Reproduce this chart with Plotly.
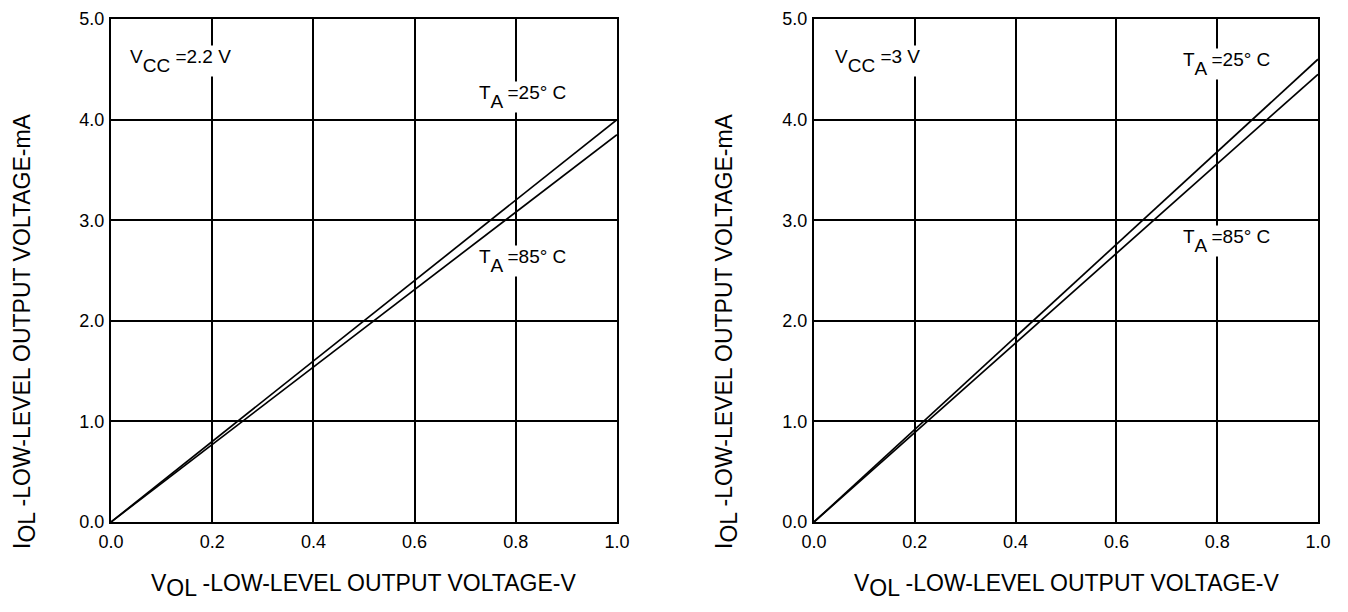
import plotly.graph_objects as go

# Figure renders at (1348-16)x(612-16) offset by the 8px page margin
W, H = 1332, 596
OFF = 8

# Data
vol = [0.0, 0.2, 0.4, 0.6, 0.8, 1.0]
left_25 = [0.0, 0.80, 1.60, 2.40, 3.20, 4.00]
left_85 = [0.0, 0.77, 1.54, 2.31, 3.08, 3.85]
right_25 = [0.0, 0.92, 1.84, 2.76, 3.68, 4.60]
right_85 = [0.0, 0.89, 1.78, 2.67, 3.56, 4.45]

x_ticks = [0.0, 0.2, 0.4, 0.6, 0.8, 1.0]
x_tick_text = ["0.0", "0.2", "0.4", "0.6", "0.8", "1.0"]
y_ticks = [0.0, 1.0, 2.0, 3.0, 4.0, 5.0]
y_tick_text = ["0.0", "1.0", "2.0", "3.0", "4.0", "5.0"]

FS = 18      # tick labels
AFS = 19     # in-plot labels
TFS = 23     # axis titles

def sub2(s, size):
    # full-size subscript with a deep downward shift (nested sub)
    big = round(size * 1.33)
    return (f"<span style='font-size:{big}px'><sub><sub>"
            f"<span style='font-size:{size}px'>{s} </span></sub></sub></span>")

def sub1(s, size):
    # full-size subscript with a moderate downward shift
    big = round(size * 1.15)
    return (f"<span style='font-size:{big}px'><sub>"
            f"<span style='font-size:{size}px'>{s} </span></sub></span>")

vcc_labels = ["V" + sub2("CC", AFS) + "=2.2 V", "V" + sub2("CC", AFS) + "=3 V"]
ta25 = "T" + sub2("A", AFS) + "=25° C"
ta85 = "T" + sub2("A", AFS) + "=85° C"
x_title = "V" + sub1("OL", TFS) + "-LOW-LEVEL OUTPUT VOLTAGE-V"
y_title = "I" + sub1("OL", TFS) + "-LOW-LEVEL OUTPUT VOLTAGE-mA"

FONT = "Liberation Sans, Arial, sans-serif"

def px_x(p):
    return (p - OFF) / W

def px_y(p):
    return 1 - (p - OFF) / H

fig = go.Figure()
line_style = dict(color="black", width=1.7)
fig.add_trace(go.Scatter(x=vol, y=left_25, mode="lines", line=line_style, xaxis="x", yaxis="y", showlegend=False))
fig.add_trace(go.Scatter(x=vol, y=left_85, mode="lines", line=line_style, xaxis="x", yaxis="y", showlegend=False))
fig.add_trace(go.Scatter(x=vol, y=right_25, mode="lines", line=line_style, xaxis="x2", yaxis="y2", showlegend=False))
fig.add_trace(go.Scatter(x=vol, y=right_85, mode="lines", line=line_style, xaxis="x2", yaxis="y2", showlegend=False))

ydom = [px_y(522), px_y(19)]
xdom1 = [px_x(111), px_x(617)]
xdom2 = [px_x(814), px_x(1318)]

def xax(dom, anchor):
    return dict(domain=dom, anchor=anchor, range=[0, 1.0], tickvals=x_ticks, ticktext=x_tick_text,
                showgrid=True, gridcolor="black", gridwidth=1.7, zeroline=False, automargin=False,
                showline=True, linecolor="black", linewidth=2, mirror=True,
                ticks="", tickfont=dict(family=FONT, size=FS, color="black"), ticklabelstandoff=2)

def yax(anchor):
    return dict(domain=ydom, anchor=anchor, range=[0, 5.0], tickvals=y_ticks, ticktext=y_tick_text,
                showgrid=True, gridcolor="black", gridwidth=1.7, zeroline=False, automargin=False,
                showline=True, linecolor="black", linewidth=2, mirror=True,
                ticks="", tickfont=dict(family=FONT, size=FS, color="black"), ticklabelstandoff=1)

annots = []
def lab(text, x, y, xr, yr):
    annots.append(dict(text=text, x=x, y=y, xref=xr, yref=yr, showarrow=False,
                       xanchor="center", yanchor="middle",
                       bgcolor="white", font=dict(family=FONT, size=AFS, color="black"), borderpad=0))

lab(vcc_labels[0], 0.138, 4.58, "x", "y")
lab(ta25, 0.814, 4.22, "x", "y")
lab(ta85, 0.814, 2.59, "x", "y")
lab(vcc_labels[1], 0.125, 4.58, "x2", "y2")
lab(ta25, 0.819, 4.55, "x2", "y2")
lab(ta85, 0.819, 2.79, "x2", "y2")

for cx in [363, 1066]:
    annots.append(dict(text=x_title, x=px_x(cx), y=px_y(603), xref="paper", yref="paper", showarrow=False,
                       xanchor="center", yanchor="bottom",
                       font=dict(family=FONT, size=TFS, color="black")))
for cx in [24, 726]:
    annots.append(dict(text=y_title, x=px_x(cx), y=px_y(331), xref="paper", yref="paper", showarrow=False,
                       xanchor="center", yanchor="middle",
                       textangle=-90, font=dict(family=FONT, size=TFS, color="black")))

fig.update_layout(
    width=W, height=H, margin=dict(l=0, r=0, t=0, b=0, autoexpand=False),
    paper_bgcolor="white", plot_bgcolor="white",
    xaxis=xax(xdom1, "y"), yaxis=yax("x"),
    xaxis2=xax(xdom2, "y2"), yaxis2=yax("x2"),
    annotations=annots, showlegend=False,
)

fig.write_html("out.html")
